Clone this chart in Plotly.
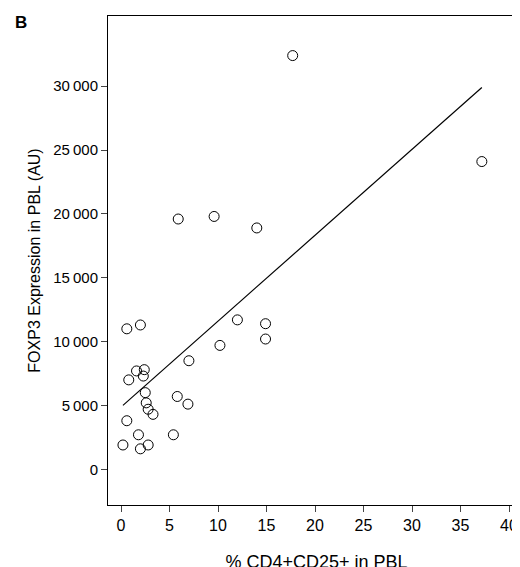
import plotly.graph_objects as go

x_vals = [0.2,0.6,0.6,0.8,1.6,1.8,2.0,2.0,2.3,2.4,2.5,2.6,2.8,2.8,3.3,5.4,5.8,5.9,7.0,6.9,9.6,10.2,12.0,14.0,14.9,14.9,17.7,37.2]
y_vals = [1900,3800,11000,7000,7700,2700,11300,1600,7300,7800,6000,5200,4700,1900,4300,2700,5700,19600,8500,5100,19800,9700,11700,18900,11400,10200,32400,24100]
line_x = [0.2, 37.2]
line_y = [5000, 29900]
y_ticks = [0,5000,10000,15000,20000,25000,30000]
y_labels = ["0","5\u2009000","10\u2009000","15\u2009000","20\u2009000","25\u2009000","30\u2009000"]

fig = go.Figure()
fig.add_trace(go.Scatter(x=line_x, y=line_y, mode="lines", line=dict(color="black", width=1.2), showlegend=False))
fig.add_trace(go.Scatter(x=x_vals, y=y_vals, mode="markers",
    marker=dict(symbol="circle-open", size=10, color="black", line=dict(width=1)), showlegend=False))
fig.update_layout(width=520, height=567, plot_bgcolor="white", paper_bgcolor="white",
    margin=dict(l=100, r=3, t=8, b=70), font=dict(family="Arial, Liberation Sans", size=15, color="black"),
    annotations=[dict(text="<b>B</b>", x=0, y=1, xref="paper", yref="paper", xshift=-95, yshift=5,
                      showarrow=False, font=dict(size=17), xanchor="left", yanchor="top")])
fig.update_xaxes(range=[-1.34, 41.65], tickvals=[0,5,10,15,20,25,30,35,40], ticks="outside", ticklen=6,
    showgrid=False, zeroline=False, showline=True, linecolor="black", mirror=True,
    title=dict(text="% CD4+CD25+ in PBL", standoff=22), tickfont=dict(size=16))
fig.update_yaxes(range=[-2800, 35500], tickvals=y_ticks, ticktext=y_labels, ticks="outside", ticklen=6,
    showgrid=False, zeroline=False, showline=True, linecolor="black", mirror=True,
    title=dict(text="FOXP3 Expression in PBL (AU)", standoff=8, font=dict(size=16)))
fig.write_html("out.html")
